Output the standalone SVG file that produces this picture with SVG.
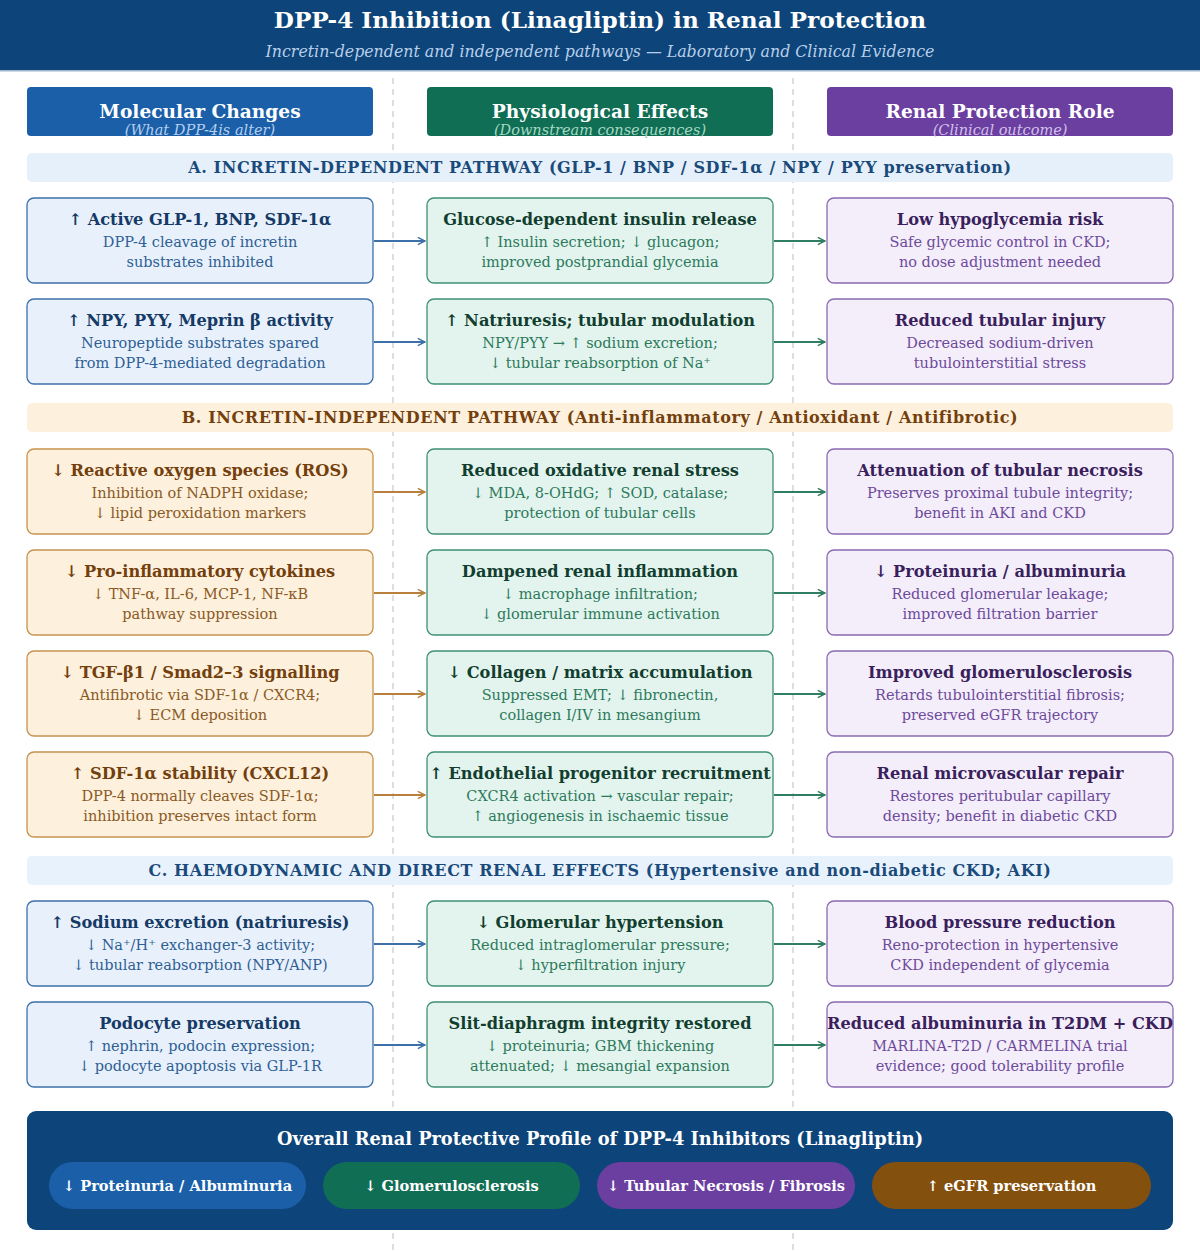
<svg xmlns="http://www.w3.org/2000/svg" width="1200" height="1251" viewBox="0 0 1200 1251">
<defs>
<style>
text{font-family:"DejaVu Serif","Liberation Serif",serif;text-anchor:middle}
.t{font-weight:bold;font-size:16.2px}
.b{font-size:14.5px}
.sec{font-weight:bold;font-size:16px;letter-spacing:0.6px}
.ch{font-weight:bold;font-size:18.6px;fill:#fff}
.cs{font-style:italic;font-size:14.5px}
.m rect{fill:#e8f1fb;stroke:#3d70a8;stroke-width:1.3}
.m .t{fill:#163a66}.m .b{fill:#2f5f95}
.o rect{fill:#fdf0dc;stroke:#c59350;stroke-width:1.3}
.o .t{fill:#733f0d}.o .b{fill:#8a5a25}
.p rect{fill:#e3f4ee;stroke:#3f8f72;stroke-width:1.3}
.p .t{fill:#123e2f}.p .b{fill:#2d7a5c}
.r rect{fill:#f3eefa;stroke:#8a6ab0;stroke-width:1.3}
.r .t{fill:#3a1f5c}.r .b{fill:#6e4a9a}
.ab{stroke:#3d70a8;stroke-width:1.8;fill:none}
.ao{stroke:#b8803c;stroke-width:1.8;fill:none}
.ag{stroke:#2f7d62;stroke-width:1.8;fill:none}
.pill{font-weight:bold;font-size:14.6px;fill:#fff}
</style>
<marker id="mb" viewBox="0 0 10 10" refX="9" refY="5" markerWidth="9" markerHeight="9" markerUnits="userSpaceOnUse" orient="auto"><path d="M1,1 L9,5 L1,9" fill="none" stroke="#3d70a8" stroke-width="1.6"/></marker>
<marker id="mo" viewBox="0 0 10 10" refX="9" refY="5" markerWidth="9" markerHeight="9" markerUnits="userSpaceOnUse" orient="auto"><path d="M1,1 L9,5 L1,9" fill="none" stroke="#b8803c" stroke-width="1.6"/></marker>
<marker id="mg" viewBox="0 0 10 10" refX="9" refY="5" markerWidth="9" markerHeight="9" markerUnits="userSpaceOnUse" orient="auto"><path d="M1,1 L9,5 L1,9" fill="none" stroke="#2f7d62" stroke-width="1.6"/></marker>
</defs>
<rect width="1200" height="1251" fill="#ffffff"/>
<g id="header">
<rect x="0" y="0" width="1200" height="71" fill="#0d4479"/>
<rect x="0" y="70" width="1200" height="1.5" fill="#9fb6d0"/>
<text x="600" y="28" style="font-weight:bold;font-size:23.2px;fill:#fff">DPP-4 Inhibition (Linagliptin) in Renal Protection</text>
<text x="600" y="57" style="font-style:italic;font-size:15.8px;fill:#b8cfea">Incretin-dependent and independent pathways — Laboratory and Clinical Evidence</text>
</g>
<g id="dividers" stroke="#c8c8c8" stroke-width="1.2" stroke-dasharray="6,5">
<line x1="393" y1="78" x2="393" y2="1251"/>
<line x1="793" y1="78" x2="793" y2="1251"/>
</g>
<g id="col-headers">
<rect x="27" y="87" width="346" height="49" rx="4" fill="#1a5fa8"/>
<text class="ch" x="200" y="118">Molecular Changes</text>
<text class="cs" x="200" y="135" fill="#b5cfee">(What DPP-4is alter)</text>
<rect x="427" y="87" width="346" height="49" rx="4" fill="#0f6e54"/>
<text class="ch" x="600" y="118">Physiological Effects</text>
<text class="cs" x="600" y="135" fill="#a5d8c3">(Downstream consequences)</text>
<rect x="827" y="87" width="346" height="49" rx="4" fill="#6b3fa0"/>
<text class="ch" x="1000" y="118">Renal Protection Role</text>
<text class="cs" x="1000" y="135" fill="#d2c0ea">(Clinical outcome)</text>
</g>
<g id="sectionA">
<rect x="27" y="153" width="1146" height="29" rx="5" fill="#e6f0fa"/>
<text class="sec" x="600" y="173" fill="#1a4a7a">A. INCRETIN-DEPENDENT PATHWAY (GLP-1 / BNP / SDF-1α / NPY / PYY preservation)</text>
</g>
<g id="sectionB">
<rect x="27" y="403" width="1146" height="29" rx="5" fill="#fdf0dc"/>
<text class="sec" x="600" y="423" fill="#733f0d">B. INCRETIN-INDEPENDENT PATHWAY (Anti-inflammatory / Antioxidant / Antifibrotic)</text>
</g>
<g id="sectionC">
<rect x="27" y="856" width="1146" height="29" rx="5" fill="#e8f2fc"/>
<text class="sec" x="600" y="876" fill="#1a4a7a">C. HAEMODYNAMIC AND DIRECT RENAL EFFECTS (Hypertensive and non-diabetic CKD; AKI)</text>
</g>

<g id="a1m" class="m"><rect x="27" y="198" width="346" height="85" rx="7"/><text class="t" x="200" y="225">↑ Active GLP-1, BNP, SDF-1α</text><text class="b" x="200" y="247">DPP-4 cleavage of incretin</text><text class="b" x="200" y="267">substrates inhibited</text></g>
<g id="a1p" class="p"><rect x="427" y="198" width="346" height="85" rx="7"/><text class="t" x="600" y="225">Glucose-dependent insulin release</text><text class="b" x="600" y="247">↑ Insulin secretion; ↓ glucagon;</text><text class="b" x="600" y="267">improved postprandial glycemia</text></g>
<g id="a1r" class="r"><rect x="827" y="198" width="346" height="85" rx="7"/><text class="t" x="1000" y="225">Low hypoglycemia risk</text><text class="b" x="1000" y="247">Safe glycemic control in CKD;</text><text class="b" x="1000" y="267">no dose adjustment needed</text></g>

<g id="a2m" class="m"><rect x="27" y="299" width="346" height="85" rx="7"/><text class="t" x="200" y="326">↑ NPY, PYY, Meprin β activity</text><text class="b" x="200" y="348">Neuropeptide substrates spared</text><text class="b" x="200" y="368">from DPP-4-mediated degradation</text></g>
<g id="a2p" class="p"><rect x="427" y="299" width="346" height="85" rx="7"/><text class="t" x="600" y="326">↑ Natriuresis; tubular modulation</text><text class="b" x="600" y="348">NPY/PYY → ↑ sodium excretion;</text><text class="b" x="600" y="368">↓ tubular reabsorption of Na⁺</text></g>
<g id="a2r" class="r"><rect x="827" y="299" width="346" height="85" rx="7"/><text class="t" x="1000" y="326">Reduced tubular injury</text><text class="b" x="1000" y="348">Decreased sodium-driven</text><text class="b" x="1000" y="368">tubulointerstitial stress</text></g>

<g id="b1m" class="o"><rect x="27" y="449" width="346" height="85" rx="7"/><text class="t" x="200" y="476">↓ Reactive oxygen species (ROS)</text><text class="b" x="200" y="498">Inhibition of NADPH oxidase;</text><text class="b" x="200" y="518">↓ lipid peroxidation markers</text></g>
<g id="b1p" class="p"><rect x="427" y="449" width="346" height="85" rx="7"/><text class="t" x="600" y="476">Reduced oxidative renal stress</text><text class="b" x="600" y="498">↓ MDA, 8-OHdG; ↑ SOD, catalase;</text><text class="b" x="600" y="518">protection of tubular cells</text></g>
<g id="b1r" class="r"><rect x="827" y="449" width="346" height="85" rx="7"/><text class="t" x="1000" y="476">Attenuation of tubular necrosis</text><text class="b" x="1000" y="498">Preserves proximal tubule integrity;</text><text class="b" x="1000" y="518">benefit in AKI and CKD</text></g>

<g id="b2m" class="o"><rect x="27" y="550" width="346" height="85" rx="7"/><text class="t" x="200" y="577">↓ Pro-inflammatory cytokines</text><text class="b" x="200" y="599">↓ TNF-α, IL-6, MCP-1, NF-κB</text><text class="b" x="200" y="619">pathway suppression</text></g>
<g id="b2p" class="p"><rect x="427" y="550" width="346" height="85" rx="7"/><text class="t" x="600" y="577">Dampened renal inflammation</text><text class="b" x="600" y="599">↓ macrophage infiltration;</text><text class="b" x="600" y="619">↓ glomerular immune activation</text></g>
<g id="b2r" class="r"><rect x="827" y="550" width="346" height="85" rx="7"/><text class="t" x="1000" y="577">↓ Proteinuria / albuminuria</text><text class="b" x="1000" y="599">Reduced glomerular leakage;</text><text class="b" x="1000" y="619">improved filtration barrier</text></g>

<g id="b3m" class="o"><rect x="27" y="651" width="346" height="85" rx="7"/><text class="t" x="200" y="678">↓ TGF-β1 / Smad2–3 signalling</text><text class="b" x="200" y="700">Antifibrotic via SDF-1α / CXCR4;</text><text class="b" x="200" y="720">↓ ECM deposition</text></g>
<g id="b3p" class="p"><rect x="427" y="651" width="346" height="85" rx="7"/><text class="t" x="600" y="678">↓ Collagen / matrix accumulation</text><text class="b" x="600" y="700">Suppressed EMT; ↓ fibronectin,</text><text class="b" x="600" y="720">collagen I/IV in mesangium</text></g>
<g id="b3r" class="r"><rect x="827" y="651" width="346" height="85" rx="7"/><text class="t" x="1000" y="678">Improved glomerulosclerosis</text><text class="b" x="1000" y="700">Retards tubulointerstitial fibrosis;</text><text class="b" x="1000" y="720">preserved eGFR trajectory</text></g>

<g id="b4m" class="o"><rect x="27" y="752" width="346" height="85" rx="7"/><text class="t" x="200" y="779">↑ SDF-1α stability (CXCL12)</text><text class="b" x="200" y="801">DPP-4 normally cleaves SDF-1α;</text><text class="b" x="200" y="821">inhibition preserves intact form</text></g>
<g id="b4p" class="p"><rect x="427" y="752" width="346" height="85" rx="7"/><text class="t" x="600" y="779">↑ Endothelial progenitor recruitment</text><text class="b" x="600" y="801">CXCR4 activation → vascular repair;</text><text class="b" x="600" y="821">↑ angiogenesis in ischaemic tissue</text></g>
<g id="b4r" class="r"><rect x="827" y="752" width="346" height="85" rx="7"/><text class="t" x="1000" y="779">Renal microvascular repair</text><text class="b" x="1000" y="801">Restores peritubular capillary</text><text class="b" x="1000" y="821">density; benefit in diabetic CKD</text></g>

<g id="c1m" class="m"><rect x="27" y="901" width="346" height="85" rx="7"/><text class="t" x="200" y="928">↑ Sodium excretion (natriuresis)</text><text class="b" x="200" y="950">↓ Na⁺/H⁺ exchanger-3 activity;</text><text class="b" x="200" y="970">↓ tubular reabsorption (NPY/ANP)</text></g>
<g id="c1p" class="p"><rect x="427" y="901" width="346" height="85" rx="7"/><text class="t" x="600" y="928">↓ Glomerular hypertension</text><text class="b" x="600" y="950">Reduced intraglomerular pressure;</text><text class="b" x="600" y="970">↓ hyperfiltration injury</text></g>
<g id="c1r" class="r"><rect x="827" y="901" width="346" height="85" rx="7"/><text class="t" x="1000" y="928">Blood pressure reduction</text><text class="b" x="1000" y="950">Reno-protection in hypertensive</text><text class="b" x="1000" y="970">CKD independent of glycemia</text></g>

<g id="c2m" class="m"><rect x="27" y="1002" width="346" height="85" rx="7"/><text class="t" x="200" y="1029">Podocyte preservation</text><text class="b" x="200" y="1051">↑ nephrin, podocin expression;</text><text class="b" x="200" y="1071">↓ podocyte apoptosis via GLP-1R</text></g>
<g id="c2p" class="p"><rect x="427" y="1002" width="346" height="85" rx="7"/><text class="t" x="600" y="1029">Slit-diaphragm integrity restored</text><text class="b" x="600" y="1051">↓ proteinuria; GBM thickening</text><text class="b" x="600" y="1071">attenuated; ↓ mesangial expansion</text></g>
<g id="c2r" class="r"><rect x="827" y="1002" width="346" height="85" rx="7"/><text class="t" x="1000" y="1029">Reduced albuminuria in T2DM + CKD</text><text class="b" x="1000" y="1051">MARLINA-T2D / CARMELINA trial</text><text class="b" x="1000" y="1071">evidence; good tolerability profile</text></g>

<g id="connectors">
<line class="ab" x1="374" y1="241" x2="425" y2="241" marker-end="url(#mb)"/>
<line class="ag" x1="774" y1="241" x2="825" y2="241" marker-end="url(#mg)"/>
<line class="ab" x1="374" y1="342" x2="425" y2="342" marker-end="url(#mb)"/>
<line class="ag" x1="774" y1="342" x2="825" y2="342" marker-end="url(#mg)"/>
<line class="ao" x1="374" y1="492" x2="425" y2="492" marker-end="url(#mo)"/>
<line class="ag" x1="774" y1="492" x2="825" y2="492" marker-end="url(#mg)"/>
<line class="ao" x1="374" y1="593" x2="425" y2="593" marker-end="url(#mo)"/>
<line class="ag" x1="774" y1="593" x2="825" y2="593" marker-end="url(#mg)"/>
<line class="ao" x1="374" y1="694" x2="425" y2="694" marker-end="url(#mo)"/>
<line class="ag" x1="774" y1="694" x2="825" y2="694" marker-end="url(#mg)"/>
<line class="ao" x1="374" y1="795" x2="425" y2="795" marker-end="url(#mo)"/>
<line class="ag" x1="774" y1="795" x2="825" y2="795" marker-end="url(#mg)"/>
<line class="ab" x1="374" y1="944" x2="425" y2="944" marker-end="url(#mb)"/>
<line class="ag" x1="774" y1="944" x2="825" y2="944" marker-end="url(#mg)"/>
<line class="ab" x1="374" y1="1045" x2="425" y2="1045" marker-end="url(#mb)"/>
<line class="ag" x1="774" y1="1045" x2="825" y2="1045" marker-end="url(#mg)"/>
</g>

<g id="summary">
<rect x="27" y="1111" width="1146" height="119" rx="9" fill="#0d4479"/>
<text x="600" y="1145" style="font-weight:bold;font-size:17.8px;fill:#fff">Overall Renal Protective Profile of DPP-4 Inhibitors (Linagliptin)</text>
<rect x="49" y="1162" width="257" height="47" rx="23.5" fill="#1a5fa8"/>
<text class="pill" x="177.5" y="1191">↓ Proteinuria / Albuminuria</text>
<rect x="323" y="1162" width="257" height="47" rx="23.5" fill="#0f6e54"/>
<text class="pill" x="451.5" y="1191">↓ Glomerulosclerosis</text>
<rect x="597" y="1162" width="258" height="47" rx="23.5" fill="#6b3fa0"/>
<text class="pill" x="726" y="1191">↓ Tubular Necrosis / Fibrosis</text>
<rect x="872" y="1162" width="279" height="47" rx="23.5" fill="#84500e"/>
<text class="pill" x="1011.5" y="1191">↑ eGFR preservation</text>
</g>
</svg>
